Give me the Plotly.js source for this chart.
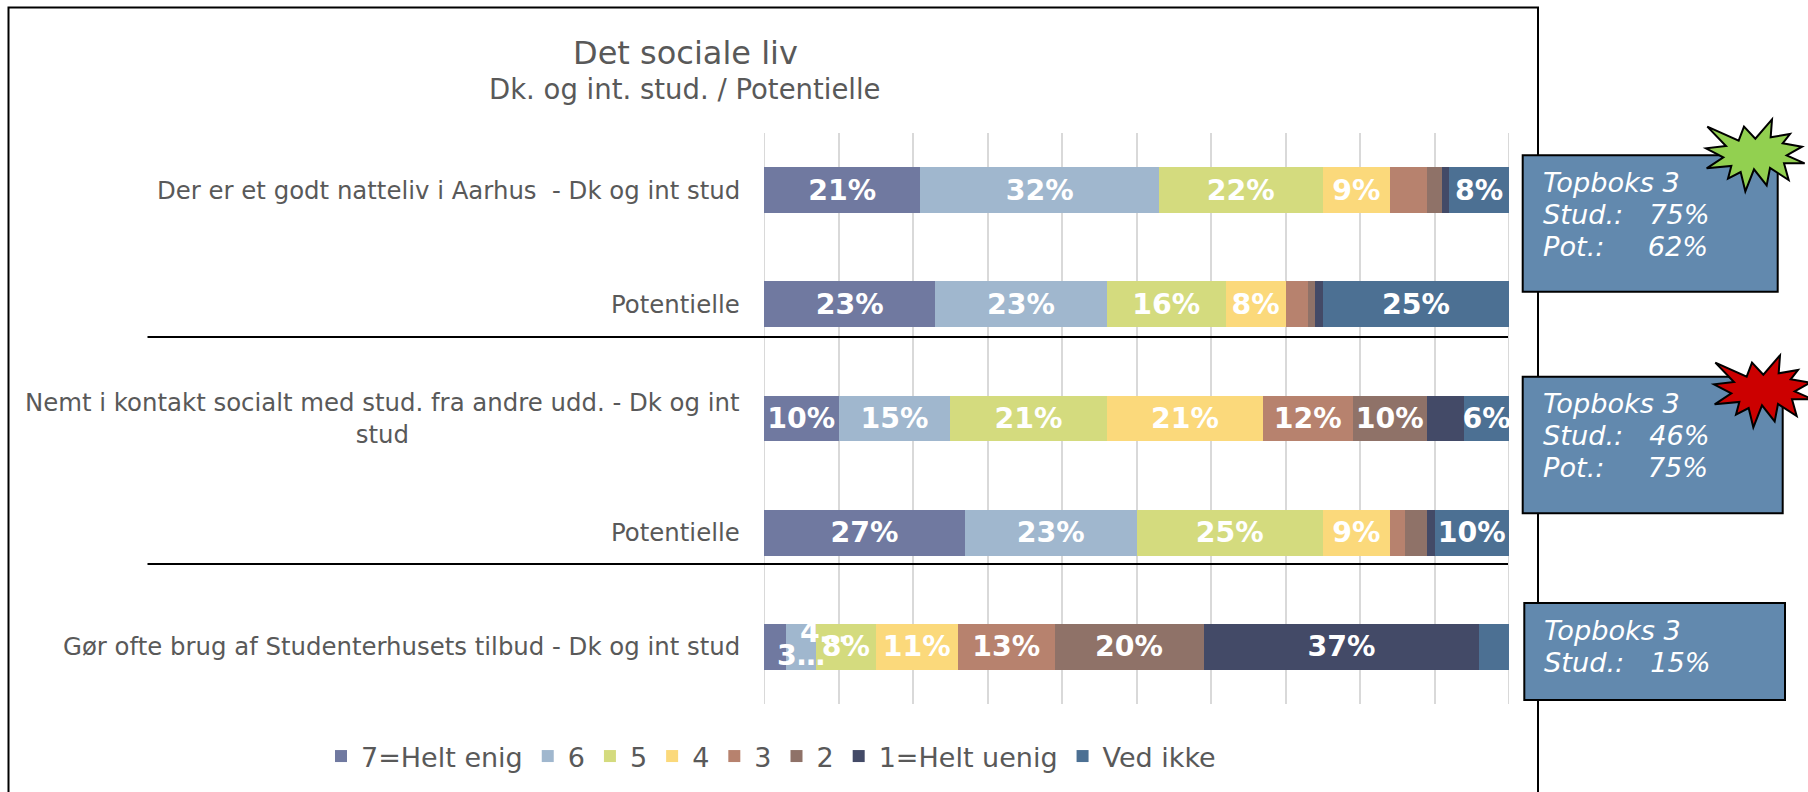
<!DOCTYPE html>
<html><head><meta charset="utf-8">
<script src="https://cdn.plot.ly/plotly-3.0.1.min.js"></script>
<style>html,body{margin:0;padding:0;background:#fff;overflow:hidden}</style></head>
<body><div id="chart" style="width:1808px;height:792px"></div>
<script>
const categories = [
  "Der er et godt natteliv i Aarhus  - Dk og int stud",
  "Potentielle",
  "Nemt i kontakt socialt med stud. fra andre udd. - Dk og int<br>stud",
  "Potentielle",
  "Gør ofte brug af Studenterhusets tilbud - Dk og int stud"
];
const seriesNames = ["7=Helt enig","6","5","4","3","2","1=Helt uenig","Ved ikke"];
const seriesColors = ["#7079A0","#A0B7CE","#D4DB7E","#FBD97B","#B7826E","#8F7268","#434A67","#4C7093"];
const helt7 = [21,23,10,27,3];
const s6    = [32,23,15,23,4];
const s5    = [22,16,21,25,8];
const s4    = [9,8,21,9,11];
const s3    = [5,3,12,2,13];
const s2    = [2,1,10,3,20];
const helt1 = [1,1,5,1,37];
const vedIkke = [8,25,6,10,4];
const seriesValues = [helt7,s6,s5,s4,s3,s2,helt1,vedIkke];
const hiddenBelow = 6;
const chartTitle = "Det sociale liv";
const chartSubtitle = "Dk. og int. stud. / Potentielle";
const boxTexts = [
  ["Topboks 3","Stud.:   75%","Pot.:     62%"],
  ["Topboks 3","Stud.:   46%","Pot.:     75%"],
  ["Topboks 3","Stud.:   15%"]
];

const W=1808,H=792, L=764,R=1509,T=133,B=704;
const ml=L, mr=W-R, mt=T, mb=H-B;
const px=x=>(x-L)/(R-L), py=y=>(B-y)/(B-T);
const rows=categories.map((_,i)=>i);
const BARFONT={family:'DejaVu Sans',size:28.4,color:'#fff',weight:700};

const traces=seriesNames.map((n,k)=>({
  type:'bar',orientation:'h',name:n,x:seriesValues[k],y:rows,
  marker:{color:seriesColors[k]},width:0.4,
  text:seriesValues[k].map((v,i)=>(v<hiddenBelow||(i==4&&k<2))?"":v+"%"),
  textposition:'inside',insidetextanchor:'middle',textangle:0,constraintext:'none',cliponaxis:false,
  textfont:BARFONT,hoverinfo:'x+name'
}));

const shapes=[], annotations=[];
[0,100].forEach(v=>shapes.push({type:'line',xref:'x',yref:'paper',layer:'below',x0:v,x1:v,y0:0,y1:1,line:{color:'#D9D9D9',width:2}}));
function rect(x0,y0,x1,y1,fill,w){shapes.push({type:'rect',xref:'paper',yref:'paper',layer:'above',
  x0:px(x0),x1:px(x1),y0:py(y0),y1:py(y1),fillcolor:fill,line:{color:'#000',width:w}});}
function line(x0,y0,x1,y1){shapes.push({type:'line',xref:'paper',yref:'paper',layer:'above',
  x0:px(x0),x1:px(x1),y0:py(y0),y1:py(y1),line:{color:'#000',width:2}});}
rect(8.5,7.5,1538,900,'rgba(0,0,0,0)',2);
line(147.5,337,1508,337);
line(147.5,564,1508,564);
const boxes=[[1522.7,155.3,1777.7,291.7],[1522.7,376.7,1782.7,513.3],[1524.3,603,1785,700]];
boxes.forEach((b,i)=>{rect(b[0],b[1],b[2],b[3],'#6289AE',2);
  boxTexts[i].forEach((t,j)=>annotations.push({xref:'paper',yref:'paper',x:px(b[0]+18),y:py(b[1]+27+j*32),xanchor:'left',yanchor:'middle',align:'left',
    text:'<i>'+t.replace(/ {2,}/g,m=>'\u00a0'.repeat(m.length))+'</i>',showarrow:false,
    font:{family:'DejaVu Sans',size:27.2,color:'#fff'}}));});
const star=[[622,80],[716,122],[732,80],[766,116],[816,58],[812,112],[870,102],[848,130],[906,140],[860,166],[914,190],[852,190],[866,240],[810,204],[800,256],[762,208],[736,274],[722,216],[684,236],[694,198],[620,205],[670,172],[618,145],[678,138]];
function starPath(dx,dy){return 'M'+star.map(p=>px(1500+p[0]/3+dx).toFixed(5)+','+py(100+p[1]/3+dy).toFixed(5)).join('L')+'Z';}
shapes.push({type:'path',xref:'paper',yref:'paper',layer:'above',path:starPath(0,0),fillcolor:'#92D050',line:{color:'#000',width:2}});
shapes.push({type:'path',xref:'paper',yref:'paper',layer:'above',path:starPath(8,236),fillcolor:'#CC0000',line:{color:'#000',width:2}});

categories.forEach((c,i)=>annotations.push({xref:'paper',yref:'y',x:px(742),y:i,xanchor:'right',yanchor:'middle',align:'center',
  text:c,showarrow:false,font:{family:'DejaVu Sans',size:24.4,color:'#595959'}}));
annotations.push({xref:'x',yref:'y',x:5,y:4,yshift:-9,text:'3…',showarrow:false,font:BARFONT});
annotations.push({xref:'x',yref:'y',x:8.1,y:4,yshift:14,text:'4…',showarrow:false,font:BARFONT});
annotations.push({xref:'paper',yref:'paper',x:px(685),y:py(53),xanchor:'center',yanchor:'middle',text:chartTitle,showarrow:false,font:{family:'DejaVu Sans',size:32,color:'#595959'}});
annotations.push({xref:'paper',yref:'paper',x:px(685),y:py(89),xanchor:'center',yanchor:'middle',text:chartSubtitle,showarrow:false,font:{family:'DejaVu Sans',size:27.5,color:'#595959'}});

Plotly.newPlot('chart',traces,{
  width:W,height:H,margin:{l:ml,r:mr,t:mt,b:mb,autoexpand:false},
  barmode:'stack',paper_bgcolor:'#fff',plot_bgcolor:'#fff',showlegend:true,
  xaxis:{range:[0,100],dtick:10,tick0:0,showgrid:true,gridcolor:'#D9D9D9',gridwidth:2,showticklabels:false,zeroline:false,ticks:''},
  yaxis:{range:[4.5,-0.5],tickvals:rows,showticklabels:false,showgrid:false,zeroline:false,ticks:''},
  legend:{orientation:'h',x:px(321),xanchor:'left',y:py(732),yanchor:'top',font:{family:'DejaVu Sans',size:27,color:'#595959'},bgcolor:'rgba(0,0,0,0)',traceorder:'normal'},
  shapes,annotations
},{displayModeBar:false});
</script></body></html>
